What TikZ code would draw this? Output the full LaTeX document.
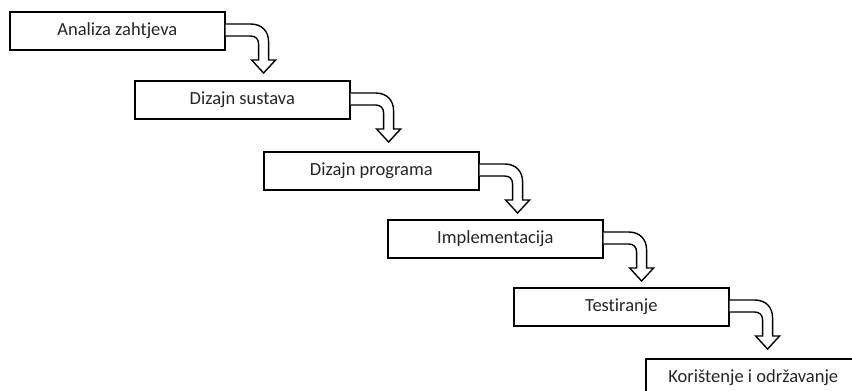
\documentclass[tikz,border=0pt]{standalone}
\usepackage{fontspec}
\setmainfont{Carlito}[Ligatures=NoCommon]
\begin{document}
\begin{tikzpicture}[x=1pt,y=-1pt,
  phase/.style={draw=black,line width=1.6pt,fill=white,rectangle,
    minimum width=215pt,minimum height=38pt,anchor=north west,inner sep=0pt,
    text=black!85,font=\fontsize{18.5}{21}\selectfont},
  bentarrow/.style={draw=black,line width=1.4pt,fill=white,line join=miter}]
\useasboundingbox (0,0) rectangle (852,391);
\clip (0,0) rectangle (852,391);
\node[phase] (a) at (9,11) {Analiza zahtjeva};
\node[phase] (b) at (134,80) {Dizajn sustava};
\node[phase] (c) at (263,151) {Dizajn programa};
\node[phase] (d) at (387,219) {Implementacija};
\node[phase] (e) at (513,287) {Testiranje};
\node[phase] (f) at (645,358) {Korištenje i održavanje};
\foreach \n in {a,b,c,d,e}{
  \begin{scope}[shift={(\n.north east)}]
    \draw[bentarrow] (0,13) -- (25,13) .. controls (36,13) and (43,20) .. (43,31)
      -- (43,49) -- (50,49) -- (38,62) -- (26,49) -- (33,49) -- (33,33)
      .. controls (33,28) and (30,25) .. (25,25) -- (0,25);
  \end{scope}
}
\end{tikzpicture}
\end{document}
